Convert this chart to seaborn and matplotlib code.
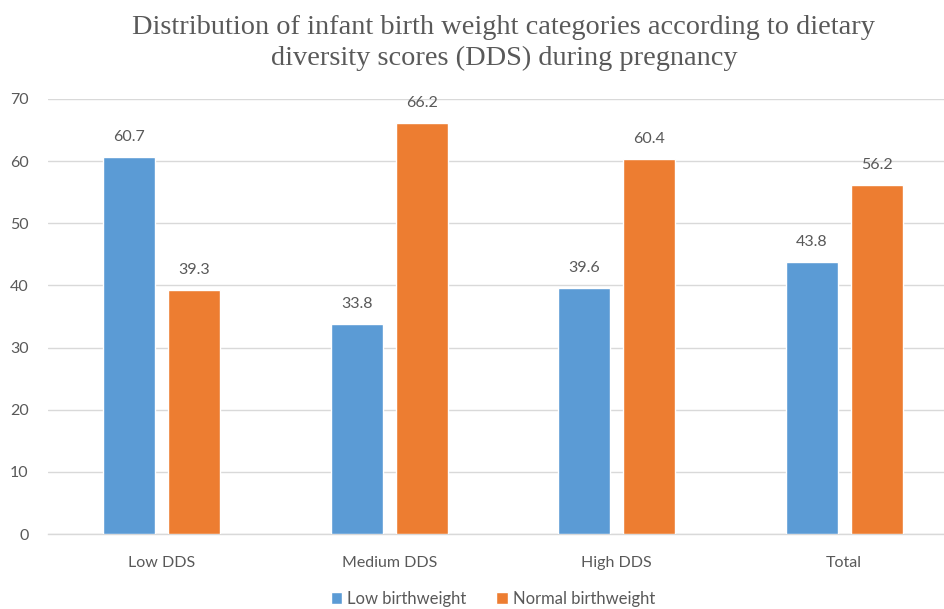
import matplotlib
matplotlib.use('Agg')
import matplotlib.pyplot as plt
import seaborn as sns
import pandas as pd

# Chart values
categories = ['Low DDS', 'Medium DDS', 'High DDS', 'Total']
low_bw = [60.7, 33.8, 39.6, 43.8]
normal_bw = [39.3, 66.2, 60.4, 56.2]
series = ['Low birthweight', 'Normal birthweight']

df = pd.DataFrame({
    'category': categories * 2,
    'value': low_bw + normal_bw,
    'series': [series[0]] * 4 + [series[1]] * 4,
})

sns.set_style('white')
plt.rcParams['font.family'] = ['Lato', 'DejaVu Sans']

grey = '#595959'
palette = {series[0]: '#5B9BD5', series[1]: '#ED7D31'}

fig = plt.figure(figsize=(9.45, 6.09), dpi=100)
ax = fig.add_axes([48 / 945, 75 / 609, 910 / 945, 435 / 609])

sns.barplot(data=df, x='category', y='value', hue='series', palette=palette,
            width=0.57, gap=0.2, saturation=1, ax=ax, legend=True, zorder=3)

for cont in ax.containers:
    ax.bar_label(cont, fmt='%.1f', padding=9, color=grey, fontsize=11.5)

ax.set_ylim(0, 70)
ax.set_xlim(-0.5, 3.5)
ax.set_yticks(range(0, 71, 10))
ax.yaxis.grid(True, color='#d9d9d9', linewidth=1, zorder=0)
ax.set_xlabel('')
ax.set_ylabel('')
ax.tick_params(axis='both', length=0, colors=grey, labelsize=11.5)
ax.tick_params(axis='x', pad=16)
ax.tick_params(axis='y', pad=14)
for s in ['top', 'right', 'left']:
    ax.spines[s].set_visible(False)
ax.spines['bottom'].set_color('#d9d9d9')
ax.spines['bottom'].set_linewidth(1)

ax.legend(loc='center', bbox_to_anchor=(493 / 945, 10 / 609),
          bbox_transform=fig.transFigure, ncol=2, frameon=False,
          fontsize=12, labelcolor=grey, handlelength=0.7, handleheight=0.7,
          handletextpad=0.3, columnspacing=1.8)

fig.text(504 / 945, 544 / 609,
         'Distribution of infant birth weight categories according to dietary\n'
         'diversity scores (DDS) during pregnancy',
         ha='center', va='baseline', fontsize=20.4, color=grey,
         family='Liberation Serif', linespacing=1.3)

fig.savefig('out.png', dpi=100)
